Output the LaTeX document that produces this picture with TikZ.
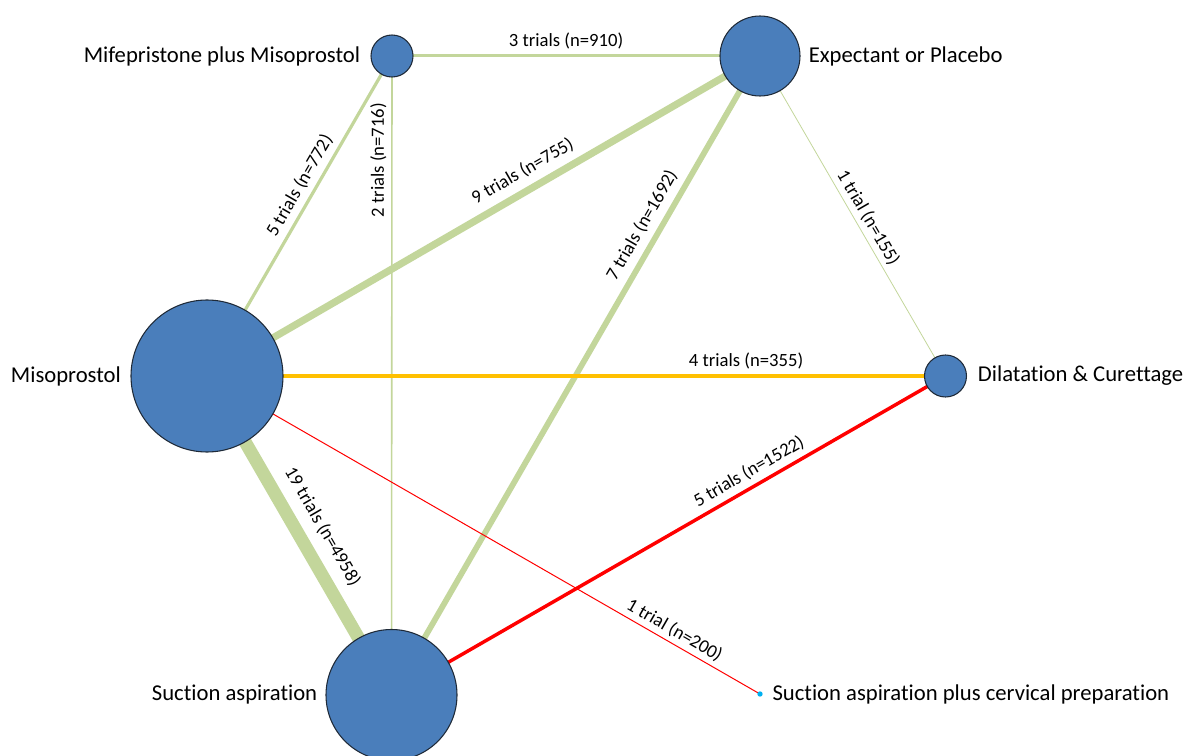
\documentclass[tikz,border=0pt]{standalone}
\usepackage{fontspec}
\setmainfont{Carlito}[Ligatures=NoCommon]
\usetikzlibrary{backgrounds}
\definecolor{nodeblue}{HTML}{4A7EBB}
\definecolor{nodeline}{HTML}{1F2A38}
\definecolor{edgegreen}{HTML}{C3D69B}
\definecolor{edgeorange}{HTML}{FFC000}
\definecolor{edgered}{HTML}{FF0000}
\definecolor{dotblue}{HTML}{00B0F0}
\begin{document}
\begin{tikzpicture}[x=0.75pt,y=-0.75pt,
  trt/.style={circle, fill=nodeblue, draw=nodeline, line width=0.8pt, inner sep=0pt, minimum size=#1},
  namelab/.style={font=\fontsize{17}{20}\selectfont, text=black, inner sep=0pt},
  edgelab/.style={font=\fontsize{14}{16}\selectfont, text=black, sloped, inner sep=1pt, above=#1},
  edgelab/.default=2pt
]
\useasboundingbox (0,0) rectangle (1186,756);

\node[trt=31.5pt, label={[namelab, label distance=7.5pt]left:Mifepristone plus Misoprostol}] (mm) at (392,56) {};
\node[trt=60pt, label={[namelab, label distance=6pt]right:Expectant or Placebo}] (ep) at (760,56) {};
\node[trt=114pt, label={[namelab, label distance=7pt]left:Misoprostol}] (mi) at (207,376) {};
\node[trt=31.5pt, label={[namelab, label distance=8pt]right:Dilatation \& Curettage}] (dc) at (945.5,376) {};
\node[trt=98.25pt, label={[namelab, label distance=6pt]left:Suction aspiration}] (sa) at (391.5,695) {};
\node[circle, fill=dotblue, inner sep=0pt, minimum size=4pt, label={[namelab, label distance=7pt]right:Suction aspiration plus cervical preparation}] (sacp) at (760,694) {};

\begin{scope}[on background layer]
  \draw[edgegreen, line width=2.25pt] (mm.center) -- node[edgelab=3pt, pos=0.473] {3 trials (n=910)} (ep.center);
  \draw[edgegreen, line width=2.4pt] (mi.center) -- node[edgelab=3pt, pos=0.571] {5 trials (n=772)} (mm.center);
  \draw[edgegreen, line width=1.2pt] (sa.center) -- node[edgelab=2.5pt, pos=0.837] {2 trials (n=716)} (mm.center);
  \draw[edgegreen, line width=5.4pt] (mi.center) -- node[edgelab=4.5pt, pos=0.588] {9 trials (n=755)} (ep.center);
  \draw[edgegreen, line width=4.35pt] (sa.center) -- node[edgelab=4pt, pos=0.721] {7 trials (n=1692)} (ep.center);
  \draw[edgegreen, line width=0.6pt] (ep.center) -- node[edgelab=2pt, pos=0.525] {1 trial (n=155)} (dc.center);
  \draw[edgeorange, line width=2.5pt] (mi.center) -- node[edgelab=3pt, pos=0.73] {4 trials (n=355)} (dc.center);
  \draw[edgered, line width=2.6pt] (sa.center) -- node[edgelab=3pt, pos=0.659] {5 trials (n=1522)} (dc.center);
  \draw[edgegreen, line width=9.75pt] (mi.center) -- node[edgelab=6.5pt, pos=0.511] {19 trials (n=4958)} (sa.center);
  \draw[edgered, line width=0.75pt] (mi.center) -- node[edgelab=2pt, pos=0.834] {1 trial (n=200)} (sacp.center);
\end{scope}
\end{tikzpicture}
\end{document}
